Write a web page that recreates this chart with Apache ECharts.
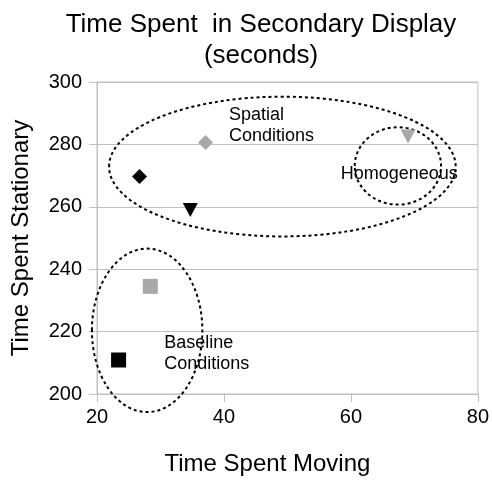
<!DOCTYPE html>
<html>
<head>
<meta charset="utf-8">
<script src="https://cdn.jsdelivr.net/npm/echarts@6/dist/echarts.min.js"></script>
<style>
  html, body { margin: 0; padding: 0; background: #fff; }
  #main { width: 492px; height: 481px; }
</style>
</head>
<body>
<div id="main"></div>
<script>
// point values (Time Spent Moving, Time Spent Stationary)
const pointNames = ['Spatial A', 'Spatial B', 'Spatial C', 'Homogeneous', 'Baseline A', 'Baseline B'];
const movingValues = [26.7, 37.1, 34.7, 69.0, 28.4, 23.4];
const stationaryValues = [269.7, 280.6, 259.0, 282.5, 234.5, 210.9];

// ellipse groups: centre x, centre y, radius x, radius y (data units)
const ellipseCx = [49.2, 67.4, 27.9];
const ellipseCy = [272.9, 273.1, 220.4];
const ellipseRx = [27.3, 6.8, 8.7];
const ellipseRy = [22.4, 12.4, 26.2];

// annotation labels
const noteTexts = ['Spatial\nConditions', 'Homogeneous', 'Baseline\nConditions'];
const noteX = [40.8, 58.4, 30.6];
const noteY = [286.2, 270.6, 213.1];

const xTicks = [20, 40, 60, 80];
const yTicks = [200, 220, 240, 260, 280, 300];

// marker styles
const markerStyle = [
  { symbol: 'diamond', size: [15, 15], color: '#000000', rotate: 0 },
  { symbol: 'diamond', size: [15, 15], color: '#a8a8a8', rotate: 0 },
  { symbol: 'triangle', size: [15, 14], color: '#000000', rotate: 180 },
  { symbol: 'triangle', size: [15, 14], color: '#a8a8a8', rotate: 180 },
  { symbol: 'rect', size: [15, 15], color: '#a8a8a8', rotate: 0 },
  { symbol: 'rect', size: [15, 15], color: '#000000', rotate: 0 }
];

const FONT = '"Liberation Sans", Arial, sans-serif';
let chart = echarts.init(document.getElementById('main'), null, { renderer: 'canvas' });

let pointSeries = pointNames.map((name, i) => ({
  name: name,
  type: 'scatter',
  symbol: markerStyle[i].symbol,
  symbolSize: markerStyle[i].size,
  symbolRotate: markerStyle[i].rotate,
  itemStyle: { color: markerStyle[i].color, opacity: 1 },
  data: [[movingValues[i], stationaryValues[i]]],
  z: 5
}));

let option = {
  animation: false,
  backgroundColor: '#fff',
  title: {
    text: 'Time Spent  in Secondary Display\n(seconds)',
    left: 256,
    top: 4,
    textAlign: 'center',
    textStyle: { fontFamily: FONT, fontSize: 26, fontWeight: 'normal', color: '#000', lineHeight: 31 }
  },
  grid: { left: 97, right: 11, top: 82, bottom: 87, show: true, borderColor: '#c0c0c0', borderWidth: 1 },
  xAxis: {
    type: 'value',
    min: xTicks[0],
    max: xTicks[xTicks.length - 1],
    interval: 20,
    name: 'Time Spent Moving',
    nameLocation: 'middle',
    nameGap: 58,
    nameTextStyle: { fontFamily: FONT, fontSize: 24, color: '#000', padding: [0, 40, 0, 0] },
    axisLine: { lineStyle: { color: '#c0c0c0', width: 1 } },
    axisTick: { show: true, length: 8, lineStyle: { color: '#c0c0c0' } },
    axisLabel: { fontFamily: FONT, fontSize: 20, color: '#000', margin: 13 },
    splitLine: { show: false }
  },
  yAxis: {
    type: 'value',
    min: yTicks[0],
    max: yTicks[yTicks.length - 1],
    interval: 20,
    name: 'Time Spent Stationary',
    nameLocation: 'middle',
    nameGap: 64,
    nameTextStyle: { fontFamily: FONT, fontSize: 24, color: '#000' },
    axisLine: { show: true, lineStyle: { color: '#c0c0c0', width: 1 } },
    axisTick: { show: true, length: 8, lineStyle: { color: '#c0c0c0' } },
    axisLabel: { fontFamily: FONT, fontSize: 20, color: '#000', margin: 15 },
    splitLine: { show: true, lineStyle: { color: '#c0c0c0', width: 1 } }
  },
  series: [
    {
      type: 'custom',
      clip: false,
      z: 3,
      data: ellipseCx.map((cx, i) => [cx, ellipseCy[i], ellipseRx[i], ellipseRy[i]]),
      renderItem: function (params, api) {
        let c = api.coord([api.value(0), api.value(1)]);
        let e = api.coord([api.value(0) + api.value(2), api.value(1) + api.value(3)]);
        return {
          type: 'ellipse',
          shape: { cx: c[0], cy: c[1], rx: Math.abs(e[0] - c[0]), ry: Math.abs(c[1] - e[1]) },
          style: { fill: null, stroke: '#000', lineWidth: 2, lineDash: [3, 3] }
        };
      }
    },
    {
      type: 'custom',
      clip: false,
      z: 4,
      data: noteX.map((x, i) => [x, noteY[i], i]),
      renderItem: function (params, api) {
        let p = api.coord([api.value(0), api.value(1)]);
        return {
          type: 'text',
          x: p[0],
          y: p[1],
          style: {
            text: noteTexts[api.value(2)],
            fontFamily: FONT,
            fontSize: 18,
            lineHeight: 21,
            fill: '#000',
            align: 'left',
            verticalAlign: 'middle'
          }
        };
      }
    }
  ].concat(pointSeries)
};
chart.setOption(option);
window.addEventListener('resize', () => chart.resize(), false);
</script>
</body>
</html>
